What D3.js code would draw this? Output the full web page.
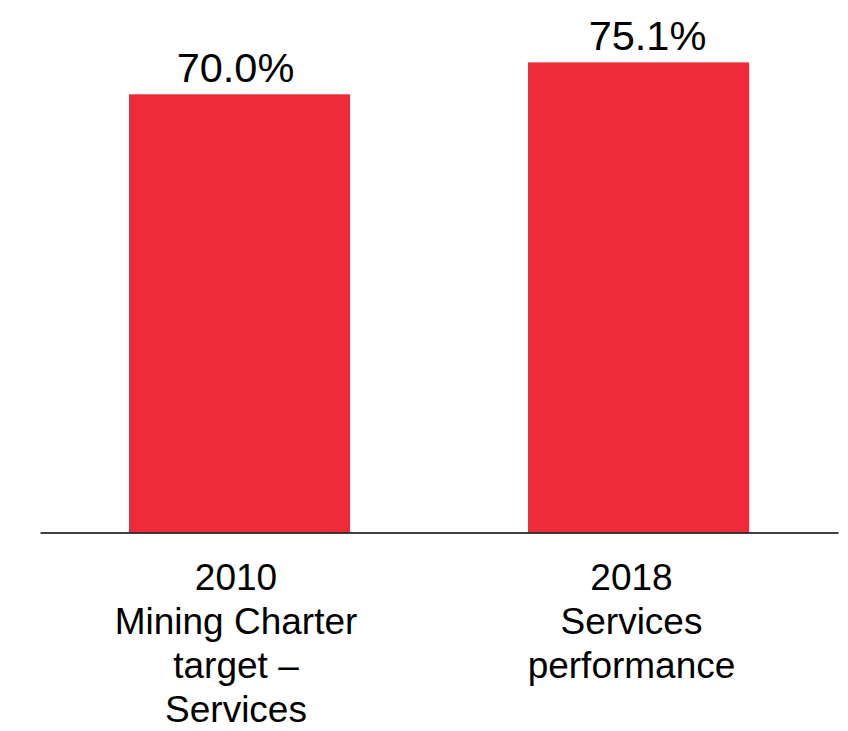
<!DOCTYPE html>
<html>
<head>
<meta charset="utf-8">
<script src="https://cdn.jsdelivr.net/npm/d3@7"></script>
<style>
  html, body { margin: 0; padding: 0; background: #fff; }
  svg { display: block; }
  text { font-family: "Liberation Sans", Arial, sans-serif; fill: #000; }
</style>
</head>
<body>
<svg id="chart" width="848" height="731"></svg>
<script>
// Data
const categories = ["2010 Mining Charter target – Services", "2018 Services performance"];
const categoryLines = [
  ["2010", "Mining Charter", "target –", "Services"],
  ["2018", "Services", "performance"]
];
const values = [70.0, 75.1];
const valueLabels = ["70.0%", "75.1%"];

// Layout
const width = 848, height = 731;
const baseY = 532.5;
const valueLabelShift = [-4, 9];
const categoryLabelShift = [-3.5, -7];

const svg = d3.select("#chart");

const x = d3.scaleBand()
  .domain(categories)
  .range([40, 838])
  .paddingInner(0.446)
  .paddingOuter(0.223);

const y = d3.scaleLinear()
  .domain([0, 80])
  .range([baseY, baseY - 80 * 6.26]);

// Bars
svg.selectAll("rect.bar")
  .data(values)
  .join("rect")
  .attr("class", "bar")
  .attr("x", (d, i) => x(categories[i]))
  .attr("width", x.bandwidth())
  .attr("y", d => y(d))
  .attr("height", d => y(0) - y(d))
  .attr("fill", "#EE2B39");

// Value labels above bars
svg.selectAll("text.value")
  .data(values)
  .join("text")
  .attr("class", "value")
  .attr("x", (d, i) => x(categories[i]) + x.bandwidth() / 2 + valueLabelShift[i])
  .attr("y", d => y(d) - 12.5)
  .attr("text-anchor", "middle")
  .style("font-size", "41.5px")
  .text((d, i) => valueLabels[i]);

// Baseline axis (no ticks)
const axis = svg.append("g")
  .attr("transform", `translate(0,${baseY})`)
  .call(d3.axisBottom(x).tickSize(0).tickFormat(""));
axis.select(".domain").attr("stroke", "#000").attr("stroke-width", 1.6);

// Multi-line category labels
axis.selectAll(".tick").each(function(d, i) {
  const t = d3.select(this).append("text")
    .attr("text-anchor", "middle")
    .attr("y", 57.5)
    .style("font-size", "37px")
    .attr("fill", "#000");
  categoryLines[i].forEach((line, j) => {
    t.append("tspan")
      .attr("x", categoryLabelShift[i])
      .attr("y", 57.5 + j * 44)
      .text(line);
  });
});
</script>
</body>
</html>
